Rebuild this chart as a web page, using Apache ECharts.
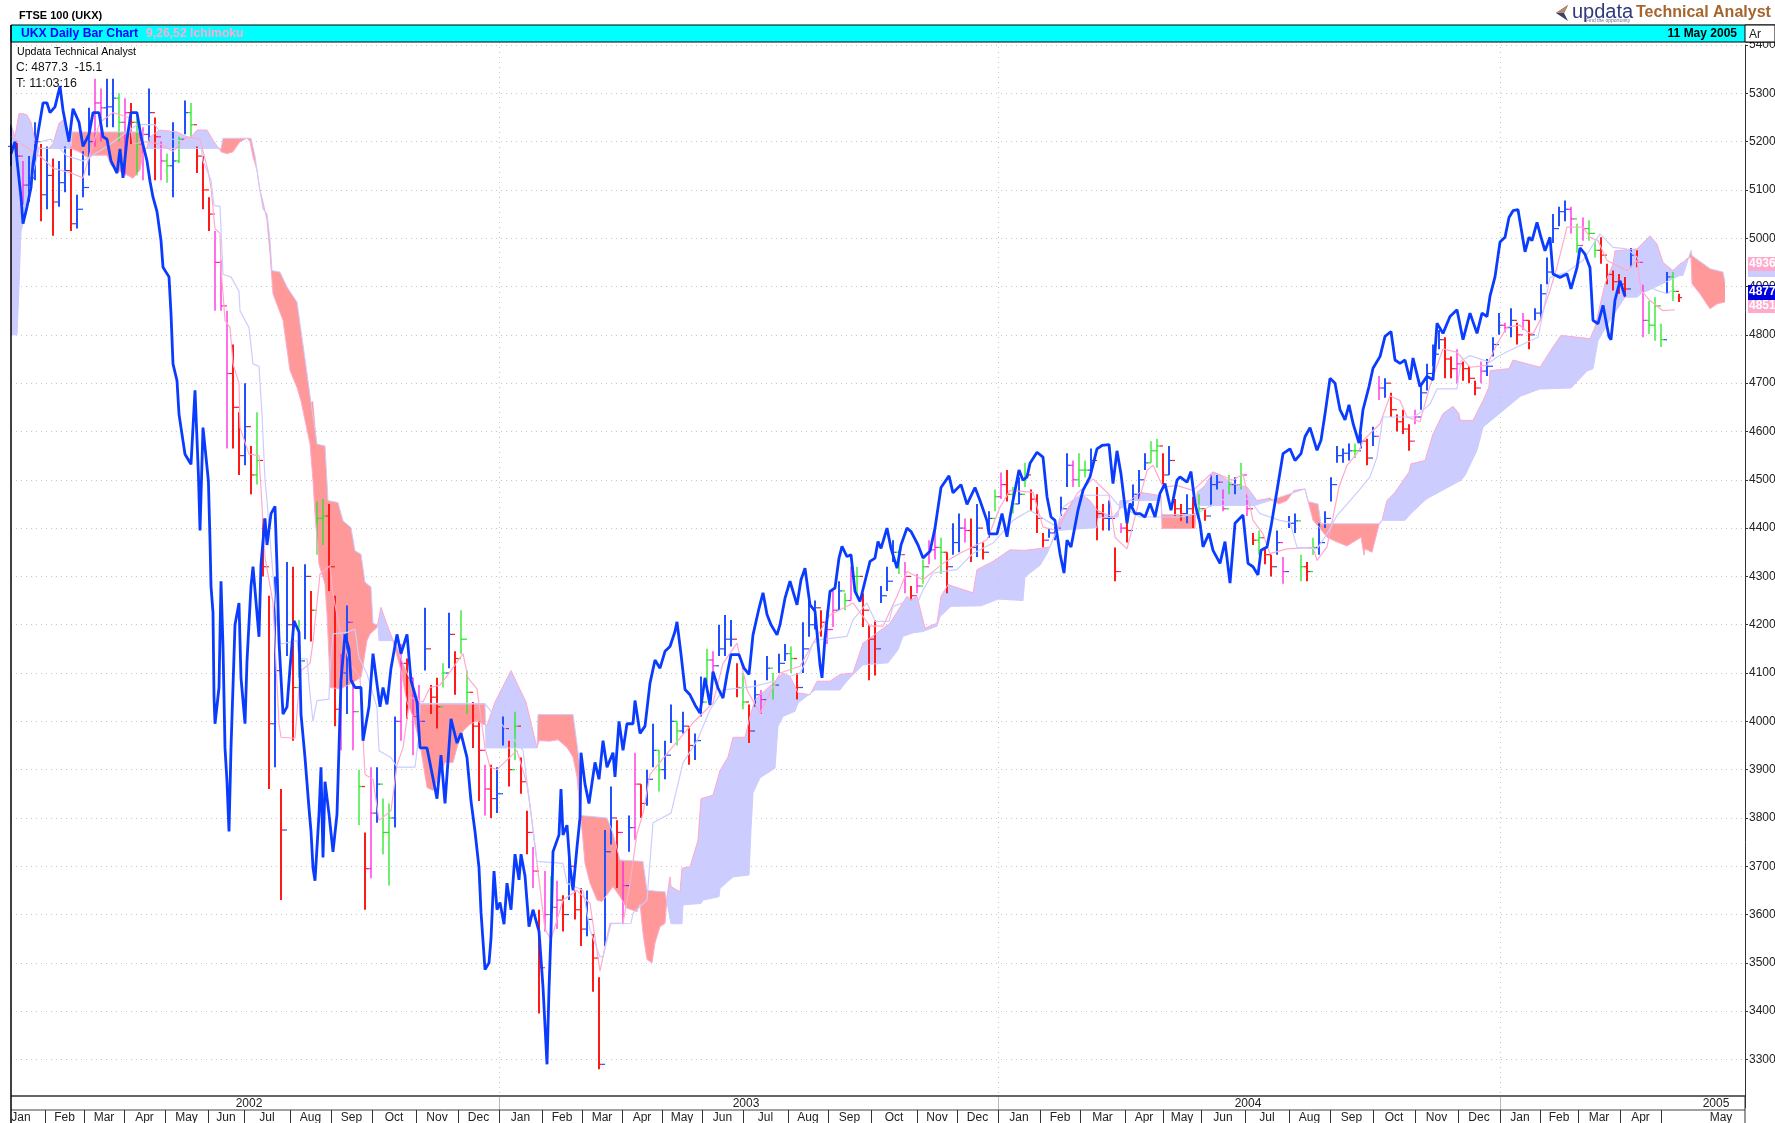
<!DOCTYPE html>
<html><head><meta charset="utf-8">
<style>html,body{margin:0;padding:0;background:#fff}#c{width:1775px;height:1123px}</style>
<script src="https://cdn.jsdelivr.net/npm/echarts@6/dist/echarts.min.js"></script>
</head><body><div id="c"></div>
<script>
// price bars: one bar per 3 trading days, 10 per line
const barStep = 3;
const barHigh = [
5235,5200,5160,5170,5240,5195,5190,5165,5160,5190,
5190,5090,5180,5270,5330,5310,5330,5330,5300,5290,
5280,5250,5230,5310,5250,5200,5175,5240,5210,5285,
5280,5190,5170,5085,5015,4955,4850,4780,4640,4700,
4570,4640,4420,4260,4300,3860,4330,4320,4210,4325,
4270,4455,4460,4450,4260,4140,4240,4085,3900,3770,
3905,3905,3840,3830,4010,4160,4130,4090,4075,4235,
4075,4090,4120,4225,4145,4230,4105,4040,4000,3910,
3910,3905,4010,3960,4020,3925,3815,3740,3610,3690,
3680,3670,3640,3735,3650,3655,3650,3560,3470,3775,
3865,3795,3710,3805,3935,3870,3900,3995,3940,3960,
4035,4000,4020,3990,3975,4093,4150,4145,4200,4220,
4210,4120,4100,4035,4085,4065,4135,4100,4140,4160,
4155,4100,4205,4250,4250,4230,4230,4270,4290,4265,
4320,4320,4265,4200,4210,4280,4320,4375,4355,4330,
4280,4305,4335,4375,4400,4380,4350,4410,4430,4420,
4420,4450,4370,4435,4480,4515,4520,4485,4505,4535,
4480,4470,4390,4400,4415,4465,4555,4540,4555,4540,
4565,4485,4450,4457,4360,4410,4430,4490,4520,4555,
4580,4585,4555,4570,4460,4450,4470,4465,4470,4440,
4510,4510,4480,4510,4505,4535,4470,4390,4395,4360,
4345,4395,4340,4425,4430,4345,4330,4380,4410,4435,
4505,4570,4565,4575,4575,4595,4585,4610,4715,4710,
4680,4635,4645,4615,4645,4700,4740,4780,4810,4795,
4755,4770,4745,4735,4705,4745,4750,4795,4845,4825,
4855,4825,4845,4830,4855,4905,4960,5050,5065,5078,
5065,5030,5043,5037,4995,5002,4947,4933,4926,4920,
4980,4975,4905,4870,4878,4823,4930,4930,4885];
const barLow = [
5150,5150,5070,5075,5120,5035,5060,5005,5065,5095,
5015,5020,5085,5130,5190,5200,5230,5230,5200,5130,
5195,5130,5120,5200,5120,5120,5115,5085,5155,5215,
5210,5135,5060,5015,4850,4850,4565,4565,4510,4530,
4470,4490,4300,3860,3905,3630,4135,3960,4090,4170,
4165,4345,4365,4270,3990,3940,4015,3940,3785,3610,
3675,3790,3725,3660,3780,3960,4005,3930,3965,4105,
4015,3985,4070,4110,4055,4140,4015,3945,3835,3805,
3800,3810,3950,3865,3920,3850,3725,3655,3395,3565,
3570,3570,3565,3630,3590,3535,3555,3440,3280,3535,
3745,3655,3580,3730,3755,3800,3825,3905,3855,3880,
3955,3950,3975,3910,3920,4010,4080,4090,4135,4135,
4155,4050,4025,3955,4030,4015,4085,4045,4100,4125,
4100,4045,4100,4175,4190,4175,4160,4195,4230,4230,
4250,4260,4195,4085,4095,4245,4270,4330,4305,4265,
4250,4265,4285,4325,4335,4305,4265,4345,4350,4370,
4330,4340,4335,4380,4435,4460,4455,4430,4450,4485,
4435,4390,4360,4380,4375,4425,4485,4485,4485,4505,
4512,4375,4395,4395,4290,4390,4370,4445,4460,4520,
4535,4525,4490,4510,4425,4415,4410,4400,4415,4415,
4445,4480,4435,4470,4470,4480,4425,4365,4345,4325,
4300,4345,4285,4400,4390,4290,4290,4345,4345,4400,
4455,4535,4535,4540,4545,4565,4530,4570,4665,4670,
4630,4600,4595,4560,4615,4645,4685,4735,4770,4710,
4710,4700,4705,4700,4675,4700,4715,4755,4800,4805,
4795,4780,4810,4770,4830,4830,4905,4990,5025,5035,
5010,4970,4995,4995,4960,4947,4905,4892,4885,4878,
4940,4940,4795,4802,4788,4775,4885,4870,4868];
const barClose = [
5190,5170,5110,5125,5200,5090,5130,5075,5115,5140,
5030,5060,5105,5200,5280,5270,5272,5290,5240,5260,
5240,5195,5215,5260,5210,5160,5150,5160,5205,5260,
5235,5170,5100,5050,4950,4860,4720,4650,4550,4610,
4510,4540,4320,3995,4105,3775,4200,4070,4125,4300,
4230,4420,4425,4320,4025,4100,4205,4020,3865,3695,
3810,3870,3770,3800,4000,4120,4090,4010,4000,4150,
4050,4030,4100,4180,4130,4170,4060,3990,3940,3860,
3840,3850,3985,3900,3990,3875,3770,3690,3490,3600,
3615,3630,3600,3700,3610,3570,3590,3510,3290,3730,
3800,3770,3660,3780,3870,3830,3880,3940,3900,3930,
4000,3980,3990,3950,3960,4040,4127,4115,4150,4170,
4170,4070,4040,3980,4055,4045,4110,4075,4120,4140,
4130,4070,4150,4200,4235,4205,4190,4230,4270,4250,
4300,4300,4230,4170,4150,4260,4290,4350,4345,4300,
4260,4280,4320,4355,4360,4350,4320,4370,4400,4395,
4360,4400,4350,4420,4465,4490,4470,4450,4470,4510,
4460,4420,4375,4390,4400,4440,4530,4500,4520,4520,
4540,4430,4420,4420,4310,4400,4395,4470,4500,4535,
4560,4570,4510,4540,4440,4430,4440,4430,4440,4425,
4490,4495,4440,4490,4490,4510,4440,4375,4380,4345,
4320,4370,4310,4410,4415,4320,4310,4360,4370,4420,
4490,4550,4555,4560,4560,4580,4545,4590,4690,4700,
4645,4620,4605,4580,4630,4680,4720,4760,4790,4750,
4730,4740,4730,4710,4690,4725,4735,4780,4820,4815,
4830,4800,4830,4800,4845,4885,4930,5020,5055,5060,
5040,4985,5020,5010,4975,4965,4925,4910,4905,4895,
4965,4950,4830,4820,4860,4790,4920,4890,4877];
const greenBarDays = [54,63,78,84,90,123,144,153,156,174,186,189,216,225,228,252,270,324,333,348,366,381,390,417,423,444,456,465,492,501,507,534,537,570,573,594,609,615,624,645,651,672,783,789,792,819,822,825,831];
const magentaBarDays = [6,42,45,57,66,75,102,105,108,165,171,180,195,201,204,237,261,267,273,306,312,351,375,408,411,420,447,453,459,462,477,495,531,555,606,618,636,684,702,723,735,747,756,780,786,816];

// Chikou span: close plotted 26 days back
const chikouDays = [0,2,5,6,8,10,11,14,16,18,19.5,22,24.5,26,29,31,34,36,39,41,44,46,48,50,53,54.5,56,58,60,63,65,68,69.5,71,73,75,76,79,80,81,83,84,85,87,90,92,93.7,94.5,96,98.7,99.5,100,101,101.5,102,104,105,106,107,108,109,110,112,114,115,117,118,120,121,124,125,127,128,130,132,133,134,136,138,139.5,141.5,144,145,147,149,150,151,152,154,155,156,157,159,161,163,164,165,167,169,170,172,175,176,179,181,184.5,186,188,190,193,195,198,200,203,204.5,208,213,215,217,220,223,225,228,230,232,234,235,237,239,240,241.5,243,244.5,246.5,248,250,252,254,255,257,259,261,264,266,268,269,270,271,274,275,276,278,279.5,281,283,284.5,285,287,289,292,294,296,298,301,302,304,306,308,311,312,314.5,317,319.5,322,324.5,327,329.5,332,333,335,337,339.5,342,344.5,347,349.5,351,353.5,356,358,360,364,366.5,369,371,374,376,378,380,383,384.5,387,389.5,393,395,397,399.5,402,404.5,405.5,407,409.5,412,414,415.5,418,420,422,424.5,427,429.5,432,433.5,435,438,440,443,445,448,450,453.5,456,459.5,462,465,469,471,475,478,482,484.5,488,489,493,495.5,498,499.5,501,504,506,508,509.5,513,516,518,520,522,524.5,526.5,528,530,533.5,536,539.5,543,545.5,549,551,553,555,557,558,559.5,562,564.5,567,569.5,572,574.5,577,580,583,584.5,588,590,592,594.5,596,599,601,604.5,607,609.5,612,616,618.5,621,623.5,625,628,630,633,636,639.5,642,645,647,649.5,653,655,657,659.5,662,664.5,667,669,671,674,676,679,681,684.5,687,690,692,694.5,697,699.5,701,704.5,708,711,713,716,719.5,723,726,729.5,733,735.5,738,739.5,742,744.5,747,749,751,753.5,755.5,757,759,760.5,763,765,767,769.5,771,774.5,778,780,783,784.5,787,789.5,791,793.5,796,799,800,802,804.5,807];
const chikouValues = [5175,5200,5085,5030,5065,5105,5155,5230,5280,5280,5260,5272,5315,5265,5200,5268,5240,5190,5215,5260,5260,5210,5205,5160,5135,5185,5125,5205,5260,5260,5210,5160,5118,5085,5055,4995,4940,4920,4844,4740,4705,4636,4608,4553,4532,4685,4512,4395,4608,4498,4375,4280,4225,4052,3995,4070,4290,4155,3945,3875,3772,3945,4200,4245,4090,3995,4125,4280,4320,4175,4325,4420,4365,4430,4445,4320,4165,4015,4030,4110,4208,4185,4015,3925,3820,3772,3697,3670,3808,3905,3718,3875,3808,3730,3808,3945,4085,4180,4150,4085,4070,4070,3960,4030,4140,4030,4070,4035,4110,4180,4140,4180,4085,4040,3945,3945,3840,3930,3830,4005,3955,3975,3925,3835,3772,3697,3605,3486,3500,3550,3690,3610,3625,3580,3665,3610,3725,3672,3725,3680,3575,3610,3565,3450,3290,3445,3565,3730,3765,3860,3765,3785,3700,3650,3740,3800,3935,3870,3830,3915,3880,3960,3905,3935,3885,4000,3940,3995,3995,4043,3975,3990,4079,4127,4110,4145,4155,4186,4206,4139,4066,4055,4034,4017,4090,4034,4103,4069,4048,4097,4138,4138,4110,4097,4179,4234,4266,4221,4200,4179,4200,4255,4290,4241,4293,4317,4241,4228,4117,4090,4172,4269,4276,4338,4362,4341,4345,4269,4248,4290,4331,4338,4372,4358,4400,4358,4317,4365,4400,4393,4365,4338,4352,4400,4484,4508,4473,4490,4449,4484,4457,4415,4388,4388,4430,4382,4423,4457,4520,4499,4506,4534,4557,4547,4465,4423,4416,4347,4307,4375,4361,4437,4478,4506,4564,4571,4573,4492,4560,4512,4444,4410,4451,4430,4430,4423,4451,4423,4472,4492,4437,4499,4506,4495,4517,4451,4410,4361,4389,4354,4327,4372,4286,4410,4427,4327,4320,4303,4354,4361,4403,4478,4554,4564,4540,4554,4589,4608,4561,4582,4636,4710,4700,4645,4624,4655,4617,4576,4645,4693,4731,4755,4797,4807,4748,4741,4748,4707,4752,4693,4714,4707,4824,4803,4838,4852,4790,4845,4803,4845,4838,4880,4920,4992,5002,5043,5057,5059,5010,4972,5002,4995,5033,5002,4974,5002,4926,4919,4926,4895,4939,4980,4967,4939,4830,4823,4861,4796,4790,4872,4912,4880];

// Ichimoku lines
const tenkanDays = [0,16,21,30,36,39.5,44.5,51,59,61,68,74.5,81,88,94.5,98.5,100,102,104.5,105,107,109.5,111,114,114.5,119,124,127,131,134,135,142,144,145,149.5,151,154.5,159.5,161,164.5,169.5,174.5,177,181,184,190,193,196,199.5,206,209.5,214.5,220,226,228.5,233,237,239.5,243,253,258,260,267,270,276,283,289.5,294.5,299.5,306,309.5,313,316,319.5,331,341,351,356,363,368,374.5,384.5,394.5,403,409.5,421,429.5,436,443,448,456,466,474.5,488,494.5,499.5,511,516,523,533,541,549,552,558,564.5,568,571,576,583,591,601,611,616,621,626,629.5,638,651,653,658,664,668,674,676,684.5,689.5,694.5,698,704.5,709.5,716,723,729.5,738,743,748,754.5,758.5,761,764.5,769.5,773,778,786,789.5,793.5,798,808,813,815,819.5,826,832];
const tenkanValues = [5210,5165,5145,5135,5125,5175,5240,5260,5250,5195,5200,5195,5180,5210,5205,5140,5105,5020,5010,4940,4830,4815,4740,4700,4608,4553,4550,4340,4245,3995,3967,3965,4070,4105,4120,4165,4305,4322,4263,4188,4120,4090,3890,3880,3795,3815,3910,3945,4050,4040,4070,4075,4105,4140,4090,4067,3945,3905,3900,3940,3870,3810,3570,3548,3630,3650,3623,3483,3582,3582,3665,3768,3809,3890,3948,3997,4038,4120,4162,4065,4017,4100,4114,4176,4220,4245,4197,4197,4259,4310,4293,4327,4348,4376,4443,4478,4474,4402,4395,4471,4502,4470,4381,4357,4464,4519,4530,4485,4488,4478,4516,4499,4512,4416,4388,4347,4357,4360,4333,4361,4485,4530,4560,4581,4616,4674,4664,4630,4620,4695,4771,4764,4733,4737,4781,4816,4820,4805,4802,4830,4892,4940,5023,5023,5002,4995,4954,4933,4954,4892,4871,4850,4852];
const kijunDays = [0,10,20,28,36,48,63,72,76,95,96,100,101.5,104.5,106,110,114,114.5,119,121,124,125.5,127,128,133,135,143,144,148,149.5,151,153,159,159.5,161,168,172,174,178,183,184,190,193,202,204,204.5,237,256,263,276,278,286,289.5,294.5,296,300,310,311,318,321,330,336,343,349.5,356,371,384.5,394.5,398,401,404.5,418,421,428,431,432,439,441,448,454,456,461,473,481,491,501,509.5,523,526,534.5,543,549.5,553,564.5,584.5,593,604.5,614.5,619.5,624.5,634.5,639.5,643,653,658,663,674,679.5,683,686,701,704,709.5,713,723,725,729.5,739.5,743,749.5,763.5,769.5,778,786,794.5,801,808,813,815,816,823,828,830.5];
const kijunValues = [5200,5195,5205,5170,5160,5190,5235,5235,5210,5190,5160,5120,5068,5066,4925,4920,4890,4850,4815,4740,4735,4635,4500,4456,4200,4160,4167,4130,4129,4057,4000,4043,4046,4105,4181,4184,4191,4132,4098,4029,3939,3925,3905,3905,3974,4036,4036,3940,3710,3706,3665,3650,3568,3513,3513,3581,3582,3603,3630,3790,3810,3914,3960,4024,4065,4072,4086,4100,4128,4162,4169,4176,4210,4245,4217,4207,4207,4238,4248,4252,4272,4307,4314,4348,4369,4416,4437,4402,4443,4468,4468,4468,4450,4423,4423,4430,4457,4468,4457,4430,4416,4412,4360,4357,4388,4426,4478,4506,4547,4630,4630,4637,4657,4688,4688,4747,4757,4743,4754,4768,4795,4919,4930,4954,5009,4981,4978,4961,4940,4905,4892,4885,4892];
const spanADays = [0,2,4,6,8,10,12,14,19,21,24,26,29,30,34,39,41,48,50,53,58,61,64.5,66,68,69.5,74.5,83,89.5,93,98,101,105,108,111,114.5,118,119.5,121,123,124.5,126,128,129.5,131,136,139.5,143,145,149.5,151,152,154,157,158,159,159.5,164.5,169.5,175,178,179.5,183,185,188,190.5,192,195,198,201,204.5,208,211,214.5,217,221,223,226,229.5,233,236,238,242,250,257.5,263,264,269.5,273.5,278,281,283,284.5,286,287,289.5,293,295.5,301,304.5,308,313,314.5,316,318,320.5,322,324.5,327,328,329.5,330,334.5,335.5,339.5,343.5,345,351,354.5,358.5,361,367,369.5,372,381,386,389.5,393.5,399.5,403,409.5,414.5,421,426,433,439.5,448,450,453,457,463,465,468.5,481,483,491,499.5,507,513,519.5,524.5,531,536,539.5,543,551,554.5,564.5,575,575.5,590,592,593,597,601,604.5,611,618,623,628.5,629,634,638,641.5,647,651,654,658,675,677,662.5,668,676.5,680.5,684,685.5,688,692,699,700,707,711,716,721,724,724,731,736,739,739.5,749,751,764.5,771,775,789.5,792,797,801,802,813,819.5,823,826,831,834.5,836,838,840,840.5,844.5,849.5,853,857];
const spanAValues = [5235,5210,5258,5258,5255,5240,5200,5186,5186,5196,5238,5245,5210,5186,5179,5165,5172,5172,5151,5141,5131,5124,5141,5176,5189,5210,5224,5220,5207,5224,5224,5203,5179,5175,5179,5200,5207,5200,5169,5141,5099,5075,5037,4968,4885,4830,4726,4691,4663,4574,4498,4429,4325,4284,4222,4132,4070,4067,4077,4091,4167,4181,4194,4236,4200,4174,4150,4105,4040,4010,3953,3863,3857,3891,3915,3915,3946,3980,3994,4001,3994,3992,4040,4105,4040,3945,3960,3959,3962,3946,3926,3885,3816,3754,3706,3665,3630,3627,3658,3637,3613,3606,3623,3561,3507,3500,3541,3575,3582,3637,3678,3658,3647,3696,3699,3754,3840,3847,3898,3926,3967,3967,4010,4045,4079,4100,4093,4059,4055,4083,4083,4097,4100,4162,4183,4203,4259,4252,4259,4193,4203,4259,4283,4266,4314,4331,4355,4354,4357,4361,4416,4457,4468,4457,4437,4423,4440,4474,4467,4399,4399,4399,4474,4488,4516,4509,4492,4485,4457,4461,4464,4450,4457,4478,4481,4416,4402,4381,4381,4357,4372,4363,4344,4350,4407,4416,4457,4474,4516,4533,4540,4595,4637,4652,4637,4623,4623,4664,4692,4726,4730,4748,4733,4775,4799,4792,4816,4906,4947,4974,4978,5005,4988,4950,4933,4947,4950,4958,4960,4906,4885,4854,4864,4868];
const spanBDays = [0,3,4,5,8,10,12,14,30,30.5,66,66.5,105,106,120,122,124,126,128,129.5,130.5,134.5,138,143,147,150,151,153,157,158.5,163.5,166,170,172,175,177,180,181,183.5,184,192,195,198,201,204.5,237,237.5,263,263.5,281,283,284.5,285,298,301,304.5,316,318,327,329,330,335.5,336,345,346,354,354.5,361,369,370,371,374.5,382,383.5,386,392,393.5,402,414.5,418.5,426,438.5,443.5,446,451,456,463,464.5,470,485,493.5,506,507,514.5,518,523,543,543.5,553.5,554.5,575,575.5,592,592.5,622,647,648.5,653.5,655,684,685.5,697,699,706,708,725,727,733,736,755,756,764.5,766,780,788,791,793.5,799.5,807,813,815,834.5,836,840,840.5,849.5,856,857];
const spanBValues = [4800,4800,4900,5015,5060,5120,5150,5186,5186,5220,5220,5186,5186,5207,5207,5170,5110,5060,5051,4996,4933,4930,4899,4868,4750,4660,4663,4574,4570,4457,4453,4415,4401,4353,4346,4288,4278,4203,4199,4167,4167,4130,4100,4075,4037,4037,3945,3945,4014,4014,3953,3905,3805,3800,3768,3713,3710,3650,3647,3603,3581,3581,3620,3623,3630,3637,3654,3678,3682,3776,3852,3883,3903,3990,4010,4021,4038,4065,4065,4086,4117,4121,4148,4176,4183,4186,4197,4217,4238,4239,4253,4250,4299,4323,4347,4395,4401,4421,4423,4457,4457,4428,4428,4447,4447,4481,4455,4450,4409,4409,4416,4416,4426,4454,4461,4499,4509,4561,4609,4674,4674,4688,4688,4690,4725,4730,4788,4830,4878,4878,4885,4923,4923,4975,4964,4937,4930,4909,4868];

// calendar
const monthNames = ["Jan","Feb","Mar","Apr","May","Jun","Jul","Aug","Sep","Oct","Nov","Dec","Jan","Feb","Mar","Apr","May","Jun","Jul","Aug","Sep","Oct","Nov","Dec","Jan","Feb","Mar","Apr","May","Jun","Jul","Aug","Sep","Oct","Nov","Dec","Jan","Feb","Mar","Apr","May"];
const monthStartDays = [-7,17,36.5,56.5,77,98.5,116.5,139.5,160,180.5,202.5,223.5,244,265.5,285.5,305.5,325.5,345.5,366,388.5,408.5,430,453,473,493.5,514.5,534.5,557,576,595,617,639,659.5,681,702,723.5,744.5,764.5,783.5,804.5,825,885];
const yearNames = ["2002","2003","2004","2005"];
const yearLabelDays = [119,367.5,618.5,852.5];
const yearStartDays = [244,493.5,744.5];

const zip = (a,b)=>a.slice(0,Math.min(a.length,b.length)).map((v,i)=>[v,b[i]]);
const at = (days,vals,d)=>{
  const n=Math.min(days.length,vals.length);
  if(d<=days[0]) return vals[0];
  for(let i=1;i<n;i++){ if(days[i]>=d){ const s=days[i]-days[i-1]; return s>0? vals[i-1]+(vals[i]-vals[i-1])*(d-days[i-1])/s : vals[i]; } }
  return vals[n-1];
};
const spanA = zip(spanADays,spanAValues).sort((p,q)=>p[0]-q[0]);
const spanB = zip(spanBDays,spanBValues).sort((p,q)=>p[0]-q[0]);
const aD=spanA.map(p=>p[0]),aV=spanA.map(p=>p[1]),bD=spanB.map(p=>p[0]),bV=spanB.map(p=>p[1]);
const allDays=[...new Set([...aD,...bD])].sort((x,y)=>x-y);
const cloudRuns=[];
for(let i=0;i<allDays.length-1;i++){
  const d0=allDays[i],d1=allDays[i+1],m=(d0+d1)/2;
  const up=at(aD,aV,m)>=at(bD,bV,m);
  let r=cloudRuns[cloudRuns.length-1];
  if(!r||r.up!==up){r={up,days:[d0]};cloudRuns.push(r);}
  r.days.push(d1);
}
const barKind=new Map();
greenBarDays.forEach(d=>barKind.set(d,'g'));
magentaBarDays.forEach(d=>barKind.set(d,'m'));
const barData=barHigh.map((h,i)=>{
  const day=i*barStep,c=barClose[i],o=i?barClose[i-1]:c;
  return [day,o,h,barLow[i],c];
});
const barColor=(day,o,c)=>{
  const k=barKind.get(day);
  if(k==='g')return '#22e622';
  if(k==='m')return '#ff22dd';
  return c>=o?'#2250ff':'#ff1a1a';
};

// 5400 sits at the top of the grid, 3200 just under the date rows' upper edge
const gridL=11,gridR=30,gridT=45,gridB=15.2,plotTop=42,plotBot=1096;
const TXT='"Liberation Sans",Arial,sans-serif';
const chart=echarts.init(document.getElementById('c'),null,{renderer:'canvas'});
const lineSeries=(name,data,color,width,z)=>({name,type:'line',data,showSymbol:false,silent:true,animation:false,z,
  lineStyle:{color,width,join:'bevel'}});
chart.setOption({
  animation:false,
  backgroundColor:'#fff',
  grid:{left:gridL,right:gridR,top:gridT,bottom:gridB,show:false,containLabel:false,outerBoundsMode:'none'},
  xAxis:{type:'value',min:0,max:867,show:false,splitLine:{show:false}},
  yAxis:{type:'value',position:'right',min:3200,max:5400,interval:100,
    axisLine:{show:true,onZero:false,lineStyle:{color:'#333',width:1}},
    axisTick:{show:true,length:3,lineStyle:{color:'#333'}},
    axisLabel:{show:true,color:'#222',fontSize:12,fontFamily:TXT,margin:4,showMinLabel:false,showMaxLabel:true,
      formatter:v=>String(Math.round(v))},
    splitLine:{show:true,showMinLine:false,showMaxLine:true,lineStyle:{color:'#c8c8c8',width:1,type:[1,4]}}},
  graphic:{elements:[
    {type:'rect',z:100,shape:{x:gridL,y:25,width:1775-gridL,height:17},style:{fill:'#00ffff',stroke:'#000',lineWidth:1}},
    {type:'rect',z:101,shape:{x:1745,y:25,width:30,height:17},style:{fill:'#fff',stroke:'#000',lineWidth:1}},
    {type:'line',z:101,shape:{x1:11,y1:25,x2:11,y2:1123},style:{stroke:'#000',lineWidth:1.5}},
    {type:'text',z:102,x:19,y:10.5,style:{text:'FTSE 100 (UKX)',font:'bold 11px '+TXT,fill:'#000'}},
    {type:'text',z:102,x:21,y:28,style:{text:'UKX Daily Bar Chart',font:'bold 12.2px '+TXT,fill:'#0000ff'}},
    {type:'text',z:102,x:146,y:28,style:{text:'9,26,52 Ichimoku',font:'bold 12.2px '+TXT,fill:'#ffaad0'}},
    {type:'text',z:102,x:1737,y:28,style:{text:'11 May 2005',font:'bold 12px '+TXT,fill:'#000',align:'right'}},
    {type:'text',z:102,x:1749,y:29,style:{text:'Ar',font:'12px '+TXT,fill:'#222'}},
    {type:'text',z:102,x:17,y:46.5,style:{text:'Updata Technical Analyst',font:'10.6px '+TXT,fill:'#000'}},
    {type:'text',z:102,x:16,y:62,style:{text:'C: 4877.3  -15.1',font:'12px '+TXT,fill:'#111'}},
    {type:'text',z:102,x:16,y:77.5,style:{text:'T: 11:03:16',font:'12.5px '+TXT,fill:'#111'}},
    {type:'polygon',z:102,shape:{points:[[1556,13],[1568,5],[1564,13],[1568,21]]},style:{fill:'#3a4070'}},
    {type:'polygon',z:102,shape:{points:[[1556,13],[1564,13],[1568,5]]},style:{fill:'#b88a60'}},
    {type:'text',z:102,x:1572,y:2,style:{text:'updata',font:'20px '+TXT,fill:'#2f3a7a'}},
    {type:'text',z:102,x:1636,y:4.5,style:{text:'Technical Analyst',font:'bold 16px '+TXT,fill:'#a5662e'}},
    {type:'text',z:102,x:1586,y:18.5,style:{text:'Find the opportunity',font:'5px '+TXT,fill:'#6a6a90'}},
    {type:'rect',z:103,shape:{x:1748,y:257,width:27,height:14},style:{fill:'#ffaacc'}},
    {type:'text',z:104,x:1749,y:258,style:{text:'4936',font:'bold 12px '+TXT,fill:'#fff'}},
    {type:'rect',z:102,shape:{x:1748,y:271,width:27,height:6},style:{fill:'#ccccff'}},
    {type:'rect',z:103,shape:{x:1748,y:285,width:27,height:15},style:{fill:'#0000dd'}},
    {type:'text',z:104,x:1749,y:286,style:{text:'4877',font:'bold 12px '+TXT,fill:'#fff'}},
    {type:'rect',z:103,shape:{x:1748,y:300,width:27,height:13},style:{fill:'#ffaacc'}},
    {type:'text',z:104,x:1749,y:300,style:{text:'4851',font:'bold 12px '+TXT,fill:'#fff'}},
    {type:'rect',z:95,shape:{x:1746,y:1097,width:29,height:26},style:{fill:'#fff'}},
    {type:'line',z:96,shape:{x1:11,y1:1096,x2:1745,y2:1096},style:{stroke:'#666',lineWidth:2}},
    {type:'line',z:96,shape:{x1:11,y1:1110,x2:1745,y2:1110},style:{stroke:'#444',lineWidth:1}},
    {type:'line',z:96,shape:{x1:1745,y1:1096,x2:1745,y2:1123},style:{stroke:'#333',lineWidth:1}}
  ]},
  series:[
    {name:'Kumo',type:'custom',coordinateSystem:'cartesian2d',z:2,silent:true,animation:false,
     data:cloudRuns.map((r,i)=>[r.days[0],i]),
     encode:{x:0,y:null},
     renderItem:(p,api)=>{
       const r=cloudRuns[api.value(1)];
       const pts=r.days.map(d=>api.coord([d,at(aD,aV,d)]));
       for(let i=r.days.length-1;i>=0;i--) pts.push(api.coord([r.days[i],at(bD,bV,r.days[i])]));
       return {type:'polygon',shape:{points:pts},style:{fill:r.up?'#ccccff':'#ff9999',stroke:null}};
     }},
    {name:'Calendar years',type:'custom',coordinateSystem:'cartesian2d',z:3,clip:false,silent:true,animation:false,
     data:yearStartDays.map(d=>[d]),encode:{x:0,y:null},
     renderItem:(p,api)=>{
       const x=Math.round(api.coord([api.value(0),3300])[0])+.5;
       return {type:'group',children:[
         {type:'line',shape:{x1:x,y1:plotTop,x2:x,y2:plotBot},style:{stroke:'#c8c8c8',lineWidth:1,lineDash:[1,4]}},
         {type:'line',shape:{x1:x,y1:plotBot,x2:x,y2:1110},style:{stroke:'#bbb',lineWidth:1}}]};
     }},
    {name:'Bars',type:'custom',coordinateSystem:'cartesian2d',z:5,silent:true,animation:false,
     data:barData,encode:{x:0,y:[1,2,3,4]},
     renderItem:(p,api)=>{
       const day=api.value(0),o=api.value(1),h=api.value(2),l=api.value(3),c=api.value(4);
       const col=barColor(day,o,c);
       const ph=api.coord([day,h]),pl=api.coord([day,l]),po=api.coord([day,o]),pc=api.coord([day,c]);
       const st={stroke:col,lineWidth:barKind.has(day)?1.3:2};
       return {type:'group',children:[
         {type:'line',shape:{x1:ph[0],y1:ph[1],x2:pl[0],y2:pl[1]},style:st},
         {type:'line',shape:{x1:po[0]-3,y1:po[1],x2:po[0],y2:po[1]},style:{stroke:col,lineWidth:1.2}},
         {type:'line',shape:{x1:pc[0],y1:pc[1],x2:pc[0]+3,y2:pc[1]},style:{stroke:col,lineWidth:1.2}}]};
     }},
    lineSeries('Senkou A',spanA,'#ffaacc',1,6),
    lineSeries('Senkou B',spanB,'#ccccff',1,6),
    lineSeries('Tenkan',zip(tenkanDays,tenkanValues),'#ffaacc',1.2,7),
    lineSeries('Kijun',zip(kijunDays,kijunValues),'#ccccff',1.2,7),
    lineSeries('Chikou',zip(chikouDays,chikouValues),'#0a3cff',2.8,8),
    {name:'Calendar months',type:'custom',coordinateSystem:'cartesian2d',z:120,clip:false,silent:true,animation:false,
     data:monthNames.map((m,i)=>[monthStartDays[i],monthStartDays[i+1],i]),encode:{x:[0,1],y:null},
     renderItem:(p,api)=>{
       const x0=api.coord([api.value(0),3300])[0],x1=api.coord([api.value(1),3300])[0],i=api.value(2);
       const kids=[{type:'text',x:(x0+x1)/2,y:1118,style:{text:monthNames[i],font:'12px '+TXT,fill:'#222',align:'center',verticalAlign:'middle'}}];
       if(i>0) kids.push({type:'line',shape:{x1:Math.round(x0)+.5,y1:1110,x2:Math.round(x0)+.5,y2:1123},style:{stroke:'#333',lineWidth:1}});
       return {type:'group',children:kids};
     }},
    {name:'Year labels',type:'custom',coordinateSystem:'cartesian2d',z:120,clip:false,silent:true,animation:false,
     data:yearNames.map((y,i)=>[yearLabelDays[i],i]),encode:{x:0,y:null},
     renderItem:(p,api)=>{
       const x=api.coord([api.value(0),3300])[0];
       return {type:'text',x,y:1104,style:{text:yearNames[api.value(1)],font:'12px '+TXT,fill:'#222',align:'center',verticalAlign:'middle'}};
     }}
  ]
});
</script></body></html>
